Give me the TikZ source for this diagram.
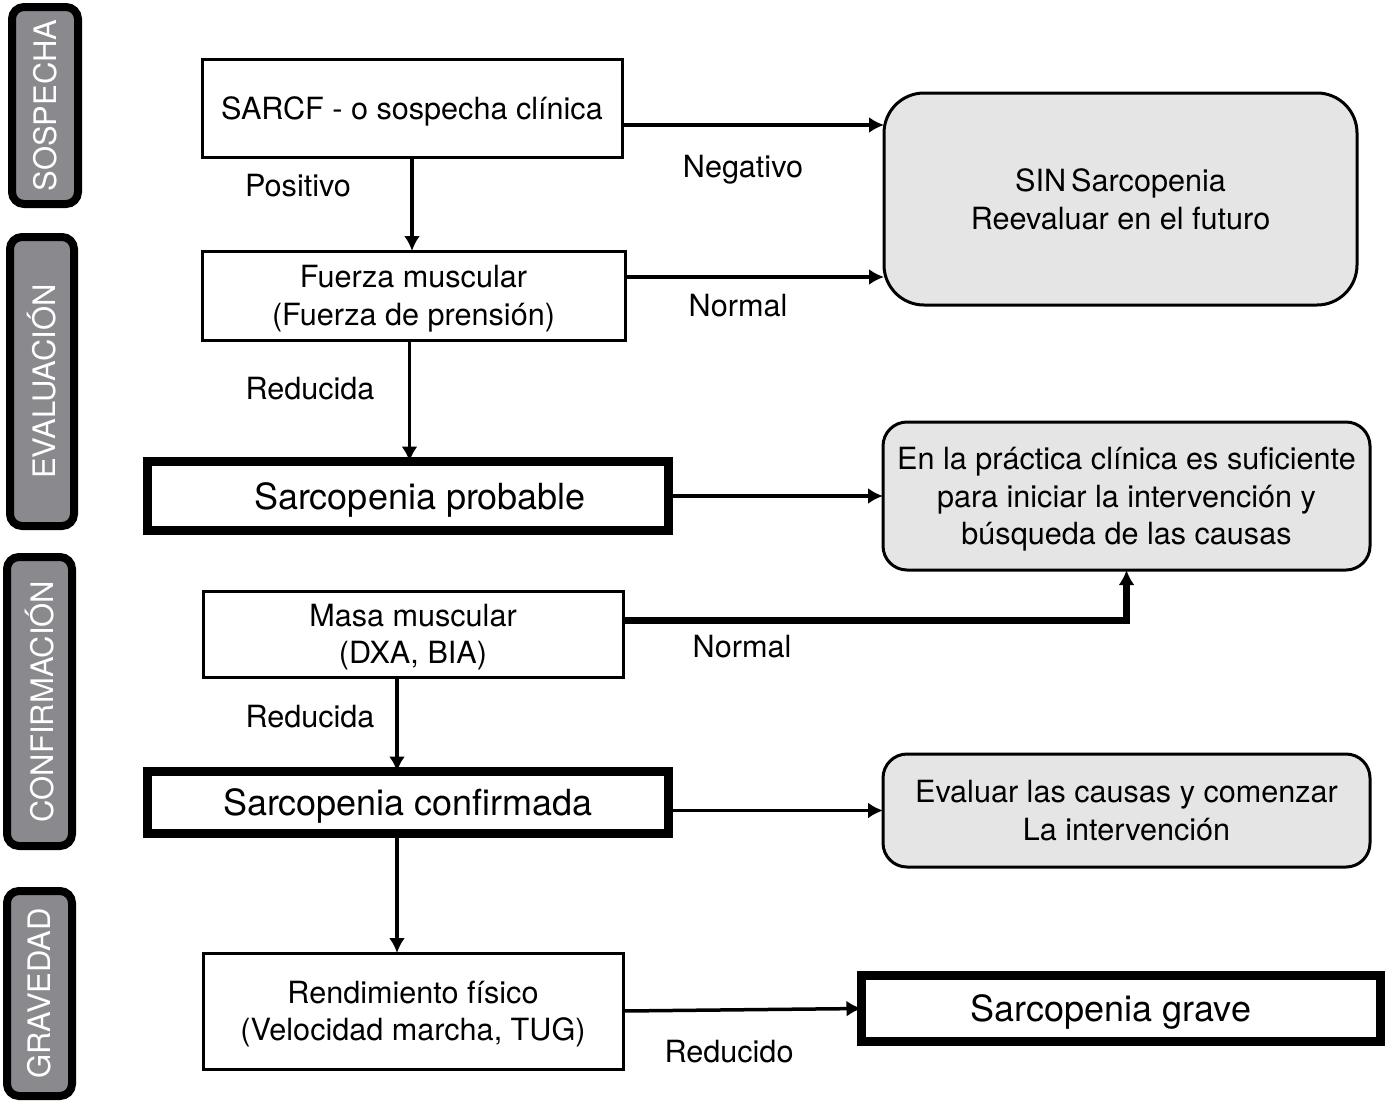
\documentclass[tikz,border=0pt]{standalone}
\usepackage{fontspec}
\setmainfont{TeX Gyre Heros}
\usetikzlibrary{arrows, arrows.meta, backgrounds, calc, positioning, shapes}

\definecolor{tabgray}{RGB}{138,138,142}
\definecolor{notegray}{RGB}{229,229,229}

\begin{document}
\begin{tikzpicture}[x=0.5pt, y=-0.5pt, font=\fontsize{15.3}{18.7}\selectfont]
\tikzset{every node/.style={inner sep=0mm, outer sep=0mm}}

\tikzstyle{phase}=[rectangle, rounded corners=6pt, draw=black, line width=4pt, fill=tabgray, text=white, rotate=90, font=\fontsize{15.5}{18}\selectfont]
\tikzstyle{box}=[rectangle, draw=black, line width=1.5pt, fill=white, align=center, text depth=0pt]
\tikzstyle{key}=[rectangle, draw=black, line width=4.5pt, fill=white, text depth=0pt, font=\fontsize{18}{22}\selectfont]
\tikzstyle{note}=[rectangle, rounded corners=12pt, draw=black, line width=1.5pt, fill=notegray, align=center, text depth=0pt]
\tikzstyle{lbl}=[]
\tikzstyle{post}=[-{Latex[length=7.5pt, width=8pt]}, line width=1.75pt]

\useasboundingbox (0,0) rectangle (1400,1108);

% fases
\node[phase, minimum width=98.5pt, minimum height=33pt] (sospecha) at (45,105.5) {SOSPECHA};
\node[phase, minimum width=144.5pt, minimum height=32pt] (evaluacion) at (42,381.5) {EVALUACIÓN};
\node[phase, minimum width=144.5pt, minimum height=32.5pt] (confirmacion) at (39.5,701.5) {CONFIRMACIÓN};
\node[phase, minimum width=102.5pt, minimum height=32.5pt] (gravedad) at (39.5,993.5) {GRAVEDAD};

% columna central
\node[box, minimum width=210pt, minimum height=49pt] (sarcf) at (412,108) {SARCF - o sospecha clínica};
\node[box, minimum width=211.5pt, minimum height=44.5pt] (fuerza) at (413.5,295.5) {Fuerza muscular\\(Fuerza de prensión)};
\node[key, minimum width=260.5pt, minimum height=34.5pt] (probable) at (408,496) {\hspace{12pt}Sarcopenia probable};
\node[box, minimum width=210pt, minimum height=43pt] (masa) at (413,634) {Masa muscular\\(DXA, BIA)};
\node[key, minimum width=260.5pt, minimum height=31pt] (confirmada) at (408,802.5) {Sarcopenia confirmada};
\node[box, minimum width=210pt, minimum height=58pt] (rendimiento) at (413,1011) {Rendimiento físico\\(Velocidad marcha, TUG)};

% columna derecha
\node[note, rounded corners=20pt, minimum width=236.5pt, minimum height=106pt] (sin) at (1120.5,199) {SIN\,Sarcopenia\\Reevaluar en el futuro};
\node[note, minimum width=243.5pt, minimum height=74pt] (practica) at (1126.5,496) {En la práctica clínica es suficiente\\para iniciar la intervención y\\búsqueda de las causas};
\node[note, minimum width=243.5pt, minimum height=56.5pt] (evaluar) at (1126.5,810.5) {Evaluar las causas y comenzar\\La intervención};
\node[key, minimum width=259.5pt, minimum height=33pt] (grave) at (1121,1008.5) {Sarcopenia grave\kern10pt};

% conectores
\draw[post] ([yshift=-8.5pt]sarcf.east) -- ([yshift=-8.5pt]sarcf.east -| sin.west);
\draw[post] (sarcf.south) -- (fuerza.north -| sarcf.south);
\draw[post] ([yshift=9.25pt]fuerza.east) -- ([yshift=9.25pt]fuerza.east -| sin.west);
\draw[post] ([xshift=-2pt]fuerza.south) -- ([xshift=-2pt]fuerza.south |- probable.north);
\draw[post] (probable.east) -- (practica.west);
\draw[post, line width=3.5pt] ([yshift=7pt]masa.east) -| (practica.south);
\draw[post] ([xshift=-8pt]masa.south) -- ([xshift=-8pt]masa.south |- confirmada.north);
\draw[post] (confirmada.east |- evaluar.west) -- (evaluar.west);
\draw[post] ([xshift=-5.5pt]confirmada.south) -- ([xshift=-5.5pt]confirmada.south |- rendimiento.north);
\draw[post] (rendimiento.east) -- (grave.west);

% etiquetas
\node[lbl] (negativo) at (743,170) {Negativo};
\node[lbl] (positivo) at (298,186) {Positivo};
\node[lbl] (normal a) at (738,306) {Normal};
\node[lbl] (reducida a) at (310,389) {Reducida};
\node[lbl] (normal b) at (742,647) {Normal};
\node[lbl] (reducida b) at (310,717) {Reducida};
\node[lbl] (reducido) at (729,1052) {Reducido};

\end{tikzpicture}
\end{document}
